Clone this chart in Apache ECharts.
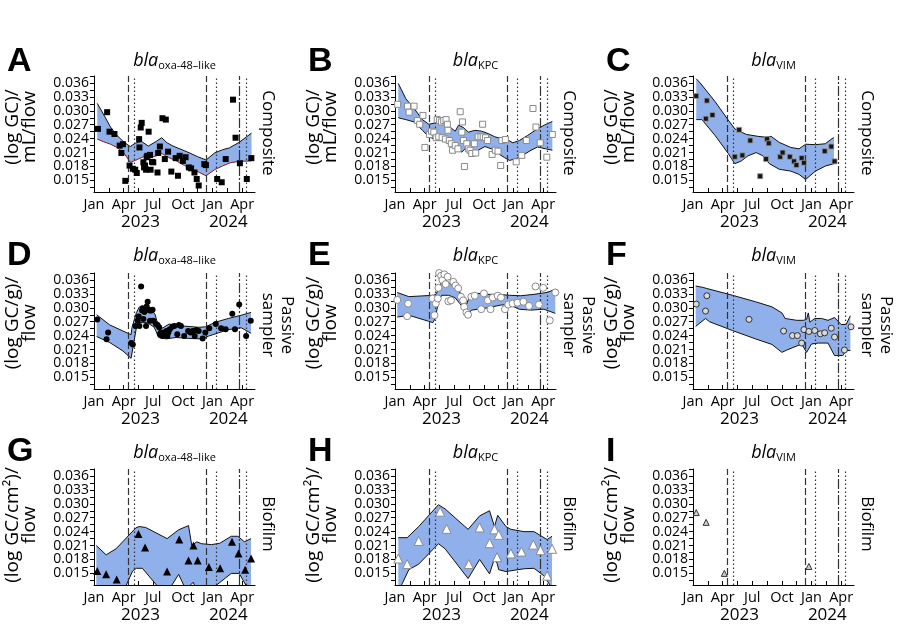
<!DOCTYPE html>
<html>
<head>
<meta charset="utf-8">
<script src="https://cdn.jsdelivr.net/npm/echarts@6/dist/echarts.min.js"></script>
<style>
  html, body { margin: 0; background: #fff; }
  #main { width: 900px; height: 635px; }
</style>
</head>
<body>
<div id="main"></div>
<script>
// x values are months since 1 Jan 2023
var monthTicks = [0, 3, 6, 9, 12, 15];
var monthLabels = ['Jan', 'Apr', 'Jul', 'Oct', 'Jan', 'Apr'];
var monthMinor = [0, 1.5, 3, 4.5, 6, 7.5, 9, 10.5, 12, 13.5, 15];
var yearPos = [4.7, 13.6];
var yearLabels = ['2023', '2024'];
var yLabels = [0.015, 0.018, 0.021, 0.024, 0.027, 0.030, 0.033, 0.036];
var yTicks = [0.0135, 0.015, 0.0165, 0.018, 0.0195, 0.021, 0.0225, 0.024, 0.0255, 0.027,
  0.0285, 0.030, 0.0315, 0.033, 0.0345, 0.036, 0.0375];
var eventDates = [3.47, 4.1, 11.37, 12.4, 14.75, 15.45];

// A: composite, oxa-48-like
var ptsA = [[0.40,.0261],[1.33,.0297],[1.57,.0255],[2.07,.0250],[2.60,.0225],[2.93,.0228],[2.77,.0209],
  [3.17,.0149],[3.60,.0182],[3.93,.0175],[4.17,.0173],[4.33,.0166],[4.57,.0239],[4.60,.0221],[4.73,.0264],
  [4.83,.0274],[5.00,.0189],[5.07,.0178],[5.17,.0182],[5.27,.0173],[5.33,.0200],[5.40,.0203],[5.53,.0255],
  [5.67,.0205],[5.73,.0173],[5.87,.0190],[6.00,.0189],[6.43,.0167],[6.50,.0209],[6.67,.0223],[6.93,.0284],
  [7.27,.0281],[7.17,.0196],[7.50,.0212],[7.83,.0169],[8.27,.0198],[8.50,.0160],[8.67,.0203],[9.00,.0192],
  [9.27,.0200],[9.60,.0178],[9.83,.0176],[10.17,.0167],[10.40,.0153],[10.60,.0139],[11.17,.0185],
  [11.33,.0183],[12.47,.0153],[12.93,.0146],[13.33,.0196],[14.07,.0324],[14.33,.0242],[14.77,.0187],
  [15.47,.0153],[15.93,.0198]];
var hiA = [[0.33,.0316],[1.0,.0291],[1.67,.0265],[2.33,.0247],[3.0,.0233],[3.67,.0223],[4.17,.0230],
  [4.8,.0234],[5.5,.0224],[6.3,.0234],[6.85,.0242],[7.4,.0231],[8.0,.0224],[8.8,.0217],[9.7,.0209],
  [10.5,.0201],[11.35,.0194],[12.2,.0209],[13.0,.0216],[13.7,.0220],[14.7,.0232],[15.95,.0252]];
var loA = [[0.33,.0239],[1.0,.0233],[1.67,.0228],[2.33,.0221],[3.0,.0210],[3.67,.0189],[4.17,.0193],
  [5.0,.0201],[5.67,.0199],[6.33,.0203],[6.85,.0208],[7.5,.0200],[8.33,.0192],[9.17,.0182],[10.0,.0174],
  [10.67,.0167],[11.35,.0160],[12.2,.0173],[13.0,.0181],[13.8,.0188],[14.7,.0191],[15.95,.0192]];

// B: composite, KPC
var ptsB = [[0.27,.0314],[1.27,.0310],[1.43,.0297],[1.93,.0310],[2.27,.0279],[2.5,.0271],[2.83,.0290],
  [3.03,.0221],[3.5,.0249],[3.7,.0256],[3.93,.0254],[4.27,.0281],[4.5,.0279],[4.7,.0276],[4.93,.0279],
  [5.17,.0281],[5.3,.0271],[4.17,.0242],[4.43,.0244],[4.77,.0242],[5.1,.0239],[5.37,.0258],[5.5,.0236],
  [5.7,.0229],[5.83,.0215],[6.1,.0225],[6.37,.0218],[6.6,.0298],[6.83,.0276],[6.77,.0254],[6.93,.0236],
  [7.03,.0180],[7.27,.0229],[7.43,.0218],[7.6,.0215],[7.77,.0208],[8.03,.0229],[8.17,.0209],[8.43,.0244],
  [8.7,.0244],[8.87,.0271],[8.93,.0244],[9.17,.0242],[9.37,.0236],[9.83,.0206],[10.17,.0215],[10.43,.0213],
  [10.83,.0236],[11.17,.0238],[10.7,.0182],[12.27,.0190],[12.83,.0204],[13.3,.0236],[13.97,.0305],
  [14.27,.0265],[14.7,.0231],[15.37,.0200],[15.93,.0249]];
var hiB = [[0.33,.0359],[1.1,.0326],[1.93,.0305],[2.77,.0281],[3.43,.0271],[4.1,.0274],[4.77,.0285],
  [5.43,.0267],[6.1,.0256],[6.43,.0269],[6.93,.0264],[7.43,.0254],[8.1,.0258],[8.77,.0256],[9.43,.0251],
  [10.1,.0244],[10.77,.0240],[11.37,.0238],[11.93,.0231],[12.6,.0236],[13.43,.0247],[14.27,.0259],
  [15.1,.0269],[15.93,.0277]];
var loB = [[0.33,.0285],[1.1,.0281],[1.93,.0276],[2.77,.0258],[3.43,.0244],[4.1,.0238],[4.77,.0238],
  [5.43,.0229],[6.1,.0218],[6.77,.0211],[7.27,.0222],[7.77,.0208],[8.43,.0215],[9.1,.0223],[9.77,.0218],
  [10.43,.0208],[11.1,.0199],[11.6,.0193],[12.27,.0197],[12.93,.0204],[13.77,.0215],[14.43,.0222],
  [15.27,.0218],[15.93,.0215]];

// C: composite, VIM
var ptsC = [[0.33,.0332],[1.4,.0322],[1.3,.0283],[1.97,.0291],[4.23,.0201],[4.67,.0259],[5.0,.0204],
  [5.8,.0236],[6.8,.0159],[7.5,.0239],[7.67,.0230],[7.4,.0196],[8.83,.0201],[9.07,.0210],[9.8,.0201],
  [10.23,.0191],[10.47,.0183],[11.0,.0198],[11.23,.0188],[13.33,.0213],[14.0,.0223],[14.33,.0191]];
var hiC = [[0.33,.0369],[0.73,.0360],[2.23,.0320],[3.57,.0280],[4.23,.0261],[5.4,.0249],[6.57,.0245],
  [7.4,.0243],[7.9,.0245],[8.73,.0232],[9.9,.0221],[10.73,.0218],[11.4,.0228],[12.4,.0227],[13.4,.0229],
  [14.07,.0240],[14.27,.0242]];
var loC = [[0.33,.0281],[0.9,.0281],[2.23,.0247],[3.57,.0208],[4.23,.0186],[4.9,.0192],[5.57,.0203],
  [6.4,.0210],[7.07,.0203],[7.73,.0186],[8.73,.0174],[9.9,.0170],[10.73,.0163],[11.4,.0152],[12.4,.0170],
  [13.4,.0181],[14.27,.0186]];

// D: passive sampler, oxa-48-like
var ptsD = [[0.33,.0275],[1.27,.0232],[1.43,.0247],[3.77,.0224],[3.93,.0221],[4.2,.0261],[4.43,.0272],
  [4.53,.0281],[4.6,.0261],[4.77,.0346],[4.87,.0294],[4.93,.0298],[5.0,.0276],[5.1,.0291],[5.2,.0298],
  [5.33,.0303],[5.43,.0313],[5.53,.0296],[5.67,.0294],[5.8,.0294],[5.93,.0296],[5.27,.0261],[5.67,.0272],
  [6.0,.0272],[6.27,.0265],[6.43,.0263],[6.6,.0258],[6.67,.0243],[6.77,.0247],[6.93,.0239],[7.1,.0247],
  [7.2,.0243],[7.33,.0250],[7.43,.0239],[7.53,.0247],[7.67,.0254],[7.93,.0259],[8.13,.0261],[8.43,.0243],
  [8.6,.0263],[8.8,.0261],[9.13,.0239],[9.53,.0250],[9.77,.0247],[10.0,.0250],[10.2,.0239],[10.37,.0252],
  [10.6,.0250],[11.0,.0234],[11.27,.0247],[11.67,.0256],[12.33,.0265],[12.87,.0256],[13.33,.0254],
  [14.0,.0287],[14.27,.0254],[14.7,.0307],[15.4,.0239],[15.87,.0272]];
var hiD = [[0.27,.0285],[1.6,.0263],[2.93,.0250],[3.75,.0242],[3.85,.0258],[4.3,.0290],[4.6,.0302],
  [4.9,.0305],[5.9,.0294],[6.2,.0285],[6.6,.0252],[7.6,.0265],[8.9,.0261],[10.6,.0258],[11.3,.0259],
  [12.3,.0269],[13.6,.0277],[14.9,.0284],[15.9,.0290]];
var loD = [[0.27,.0238],[1.6,.0225],[2.93,.0207],[3.75,.0191],[4.3,.0258],[4.6,.0268],[5.4,.0268],
  [6.1,.0258],[6.55,.0236],[7.3,.0233],[8.3,.0236],[9.6,.0234],[10.9,.0233],[11.6,.0239],[12.6,.0246],
  [13.6,.0253],[14.9,.0257],[15.9,.0245]];

// E: passive sampler, KPC
var ptsE = [[0.23,.0317],[1.33,.0309],[1.23,.0282],[3.8,.0320],[4.0,.0284],[4.13,.0309],[4.33,.0320],
  [4.47,.0375],[4.67,.0369],[4.8,.0360],[5.0,.0372],[5.13,.0351],[5.33,.0367],[4.4,.0343],[5.4,.0314],
  [5.67,.0316],[5.9,.0356],[6.13,.0348],[6.4,.0342],[6.67,.0324],[6.9,.0316],[7.0,.0302],[7.23,.0290],
  [7.4,.0285],[7.73,.0324],[8.07,.0326],[8.73,.0297],[9.0,.0331],[9.4,.0316],[9.67,.0297],[9.9,.0322],
  [10.4,.0326],[10.73,.0322],[11.13,.0297],[11.47,.0307],[11.9,.0309],[12.4,.0311],[13.0,.0313],
  [13.57,.0304],[14.23,.0346],[14.57,.0307],[15.0,.0343],[15.67,.0273],[16.23,.0333]];
var hiE = [[0.23,.0333],[1.4,.0324],[3.9,.0327],[4.13,.0329],[4.57,.0346],[4.8,.0364],[5.13,.0360],
  [5.73,.0349],[6.4,.0336],[6.9,.0327],[7.23,.0306],[7.57,.0327],[8.4,.0331],[9.4,.0329],[10.4,.0329],
  [11.57,.0327],[12.73,.0326],[14.07,.0329],[15.4,.0333],[16.23,.0340]];
var loE = [[0.23,.0280],[1.4,.0284],[3.4,.0271],[3.83,.0268],[4.07,.0277],[4.4,.0313],[4.73,.0327],
  [5.4,.0327],[6.07,.0322],[6.57,.0309],[7.07,.0295],[7.4,.0284],[7.73,.0295],[8.4,.0297],[9.4,.0300],
  [10.73,.0306],[11.57,.0307],[12.57,.0297],[13.73,.0295],[15.07,.0297],[16.23,.0288]];

// F: passive sampler, VIM
var ptsF = [[0.33,.0308],[1.27,.0293],[1.4,.0326],[5.67,.0275],[9.17,.0250],[10.07,.0240],[10.57,.0240],
  [11.0,.0224],[11.23,.0253],[11.73,.0249],[12.33,.0251],[12.9,.0244],[13.33,.0246],[14.0,.0256],
  [14.33,.0237],[15.33,.0209],[16.0,.0259]];
var hiF = [[0.27,.0347],[1.0,.0344],[1.33,.0342],[4.0,.0327],[6.33,.0313],[8.0,.0302],[9.0,.0289],
  [9.33,.0277],[10.5,.0273],[11.17,.0273],[11.5,.0275],[11.67,.0289],[11.83,.0269],[12.33,.0277],
  [13.0,.0277],[13.67,.0273],[14.33,.0279],[15.0,.0264],[15.5,.0264],[15.93,.0283]];
var loF = [[0.27,.0260],[1.27,.0277],[1.67,.0270],[4.0,.0251],[6.33,.0233],[8.0,.0221],[9.0,.0204],
  [9.5,.0209],[11.0,.0222],[11.5,.0204],[12.0,.0222],[12.67,.0224],[13.67,.0224],[14.33,.0197],
  [15.17,.0197],[15.5,.0208],[15.93,.0208]];

// G: biofilm, oxa-48-like
var ptsG = [[0.33,.0155],[1.23,.0148],[2.3,.0137],[4.5,.0235],[5.17,.0206],[7.4,.0154],[8.63,.0223],
  [9.57,.0178],[10.07,.0210],[10.5,.0178],[11.63,.0164],[12.77,.0161],[13.97,.0218],[14.63,.0193],
  [15.3,.0158],[15.9,.0182]];
var hiG = [[0.23,.0210],[1.23,.0190],[2.23,.0203],[2.9,.0218],[4.23,.0248],[4.57,.0251],[5.23,.0249],
  [7.4,.0225],[8.57,.0244],[9.57,.0253],[9.9,.0210],[10.4,.0218],[10.9,.0214],[11.9,.0212],[12.73,.0215],
  [13.9,.0230],[14.57,.0230],[15.23,.0218],[15.9,.0225]];
var loG = [[0.23,.0105],[3.0,.0112],[3.9,.0155],[4.3,.0161],[4.9,.0161],[6.6,.0118],[7.6,.0115],
  [8.57,.0148],[9.3,.0115],[10.05,.0131],[10.3,.0118],[12.0,.0118],[13.9,.0150],[14.7,.0150],
  [15.5,.0120],[15.9,.0112]];

// H: biofilm, KPC
var ptsH = [[0.33,.0182],[1.23,.0170],[2.4,.0220],[4.57,.0283],[5.23,.0246],[7.47,.0170],[8.57,.0249],
  [9.57,.0215],[10.07,.0245],[10.5,.0233],[10.33,.0185],[11.73,.0193],[12.8,.0197],[14.0,.0212],
  [14.73,.0200],[15.4,.0145],[15.9,.0203]];
var hiH = [[0.33,.0227],[1.23,.0227],[2.4,.0251],[4.4,.0298],[5.07,.0289],[7.4,.0245],[8.57,.0274],
  [9.57,.0285],[10.07,.0251],[10.4,.0275],[11.23,.0251],[11.73,.0245],[13.07,.0240],[14.07,.0240],
  [15.4,.0223],[15.9,.0230]];
var loH = [[0.33,.0110],[0.73,.0128],[1.4,.0158],[2.4,.0170],[4.4,.0214],[5.07,.0203],[7.4,.0139],
  [8.57,.0180],[9.57,.0149],[10.07,.0182],[10.33,.0172],[10.5,.0158],[11.23,.0154],[13.07,.0160],
  [14.07,.0161],[15.07,.0145],[15.9,.0118]];

// I: biofilm, VIM (no band)
var ptsI = [[0.33,.0281],[1.33,.0260],[3.17,.0150],[11.73,.0165]];

var panels = [
  {key: 'A', gene: 'oxa-48–like', pts: ptsA, hi: hiA, lo: loA, loColor: '#8b1a1a', symbol: 'rect', size: 6, fill: '#000', border: '#000', bw: 0},
  {key: 'B', gene: 'KPC', pts: ptsB, hi: hiB, lo: loB, symbol: 'rect', size: 6, fill: '#fff', border: '#8a8a8a', bw: 1},
  {key: 'C', gene: 'VIM', pts: ptsC, hi: hiC, lo: loC, symbol: 'rect', size: 5, fill: '#151515', border: '#9a9a9a', bw: 0.8},
  {key: 'D', gene: 'oxa-48–like', pts: ptsD, hi: hiD, lo: loD, symbol: 'circle', size: 6, fill: '#000', border: '#000', bw: 0},
  {key: 'E', gene: 'KPC', pts: ptsE, hi: hiE, lo: loE, symbol: 'circle', size: 7, fill: '#fff', border: '#8a8a8a', bw: 1},
  {key: 'F', gene: 'VIM', pts: ptsF, hi: hiF, lo: loF, symbol: 'circle', size: 6, fill: '#d8d8d8', border: '#333', bw: 1},
  {key: 'G', gene: 'oxa-48–like', pts: ptsG, hi: hiG, lo: loG, symbol: 'triangle', size: 8, fill: '#000', border: '#000', bw: 0},
  {key: 'H', gene: 'KPC', pts: ptsH, hi: hiH, lo: loH, symbol: 'triangle', size: 9, fill: '#fff', border: '#8a8a8a', bw: 1},
  {key: 'I', gene: 'VIM', pts: ptsI, symbol: 'triangle', size: 6, fill: '#cfcfcf', border: '#333', bw: 1}
];

var rowNames = ['(log GC)/\nmL/flow', '(log GC/g)/\nflow', '(log GC/cm²)/\nflow'];
var sideNames = ['Composite', 'Passive\nsampler', 'Biofilm'];

var FONT = 'Open Sans';
var colLeft = [94, 395, 693];
var gridW = 161;
var rowTop = [76, 273, 469];
var rowH = [116, 116, 116];
var nameY = [127, 323, 525];
var sideDx = [13, 22, 13];
var sideY = [133, 325, 524];
var letterY = [62, 256, 452];
var titleY = [61, 256, 453];
var blue = '#8fb0ea';
var lineTypes = [[7, 3], [1.5, 2.5], [7, 3], [1.5, 2.5], [10, 2, 2, 2], [1.5, 2.5]];

var grids = [], xAxes = [], yAxes = [], series = [], graphics = [];

panels.forEach(function (p, i) {
  var r = Math.floor(i / 3), c = i % 3;
  grids.push({left: colLeft[c], top: rowTop[r], width: gridW, height: rowH[r]});

  xAxes.push({
    type: 'value', gridIndex: i, min: 0, max: 16.3,
    axisLine: {lineStyle: {color: '#000', width: 1}},
    axisTick: {inside: true, length: 4, customValues: monthMinor, lineStyle: {color: '#000'}},
    axisLabel: {
      customValues: monthTicks, margin: 5, color: '#000', fontFamily: FONT, fontSize: 14.5,
      formatter: function (v) { return monthLabels[monthTicks.indexOf(v)]; }
    },
    splitLine: {show: false}
  });
  xAxes.push({
    type: 'value', gridIndex: i, min: 0, max: 16.3, position: 'bottom', offset: 17,
    axisLine: {show: false}, axisTick: {show: false},
    axisLabel: {
      customValues: yearPos, margin: 5, color: '#000', fontFamily: FONT, fontSize: 17,
      formatter: function (v) { return yearLabels[yearPos.indexOf(v)]; }
    },
    splitLine: {show: false}
  });
  yAxes.push({
    type: 'value', gridIndex: i, min: 0.0125, max: 0.0375,
    axisLine: {show: true, lineStyle: {color: '#000', width: 1}},
    axisTick: {show: true, length: 4, customValues: yTicks, lineStyle: {color: '#000'}},
    axisLabel: {
      customValues: yLabels, margin: 5, color: '#000', fontFamily: FONT, fontSize: 14,
      formatter: function (v) { return v.toFixed(3); }
    },
    splitLine: {show: false}
  });

  if (p.hi) {
    series.push({
      type: 'custom', xAxisIndex: i * 2, yAxisIndex: i, z: 1, silent: true,
      data: [[0, 0.02]],
      renderItem: function (params, api) {
        var cs = params.coordSys;
        var up = p.hi.map(function (d) { return api.coord(d); });
        var dn = p.lo.map(function (d) { return api.coord(d); });
        return {
          type: 'group',
          clipPath: {type: 'rect', shape: {x: cs.x, y: cs.y, width: cs.width, height: cs.height}},
          children: [
            {type: 'polygon', shape: {points: up.concat(dn.slice().reverse())}, style: {fill: blue}},
            {type: 'polyline', shape: {points: up}, style: {stroke: '#111', lineWidth: 1, fill: null}},
            {type: 'polyline', shape: {points: dn}, style: {stroke: p.loColor || '#111', lineWidth: 1, fill: null}}
          ]
        };
      }
    });
  }

  series.push({
    type: 'scatter', xAxisIndex: i * 2, yAxisIndex: i, z: 3, silent: true,
    symbol: p.symbol, symbolSize: p.size,
    itemStyle: {color: p.fill, borderColor: p.border, borderWidth: p.bw, opacity: 1},
    data: p.pts,
    markLine: {
      silent: true, symbol: 'none', label: {show: false}, z: 2,
      data: eventDates.map(function (d, k) {
        return {xAxis: d, lineStyle: {color: '#333', width: 1.2, type: lineTypes[k]}};
      })
    }
  });

  var cx = colLeft[c] + gridW / 2;
  graphics.push({
    type: 'text', x: colLeft[c] - 87, y: letterY[r],
    style: {text: p.key, fontFamily: 'Liberation Sans', fontWeight: 'bold', fontSize: 34,
      fill: '#000', align: 'left', verticalAlign: 'middle'}
  });
  graphics.push({
    type: 'text', x: cx, y: titleY[r],
    style: {
      text: '{i|bla}{s|' + p.gene + '}', align: 'center', verticalAlign: 'middle', fill: '#000',
      rich: {
        i: {fontFamily: FONT, fontStyle: 'italic', fontSize: 18, lineHeight: 20, verticalAlign: 'middle'},
        s: {fontFamily: FONT, fontSize: 11, lineHeight: 4, verticalAlign: 'bottom'}
      }
    }
  });
  graphics.push({
    type: 'text', x: colLeft[c] - 73, y: nameY[r], rotation: Math.PI / 2,
    style: {text: rowNames[r], fontFamily: FONT, fontSize: 19, lineHeight: 16.5, fill: '#000',
      align: 'center', verticalAlign: 'middle'}
  });
  graphics.push({
    type: 'text', x: colLeft[c] + gridW + sideDx[r], y: sideY[r], rotation: -Math.PI / 2,
    style: {text: sideNames[r], fontFamily: FONT, fontSize: 17, lineHeight: 19, fill: '#000',
      align: 'center', verticalAlign: 'middle'}
  });
});

var chart = echarts.init(document.getElementById('main'));
chart.setOption({
  backgroundColor: '#fff',
  animation: false,
  grid: grids,
  xAxis: xAxes,
  yAxis: yAxes,
  series: series,
  graphic: graphics
});
</script>
</body>
</html>
